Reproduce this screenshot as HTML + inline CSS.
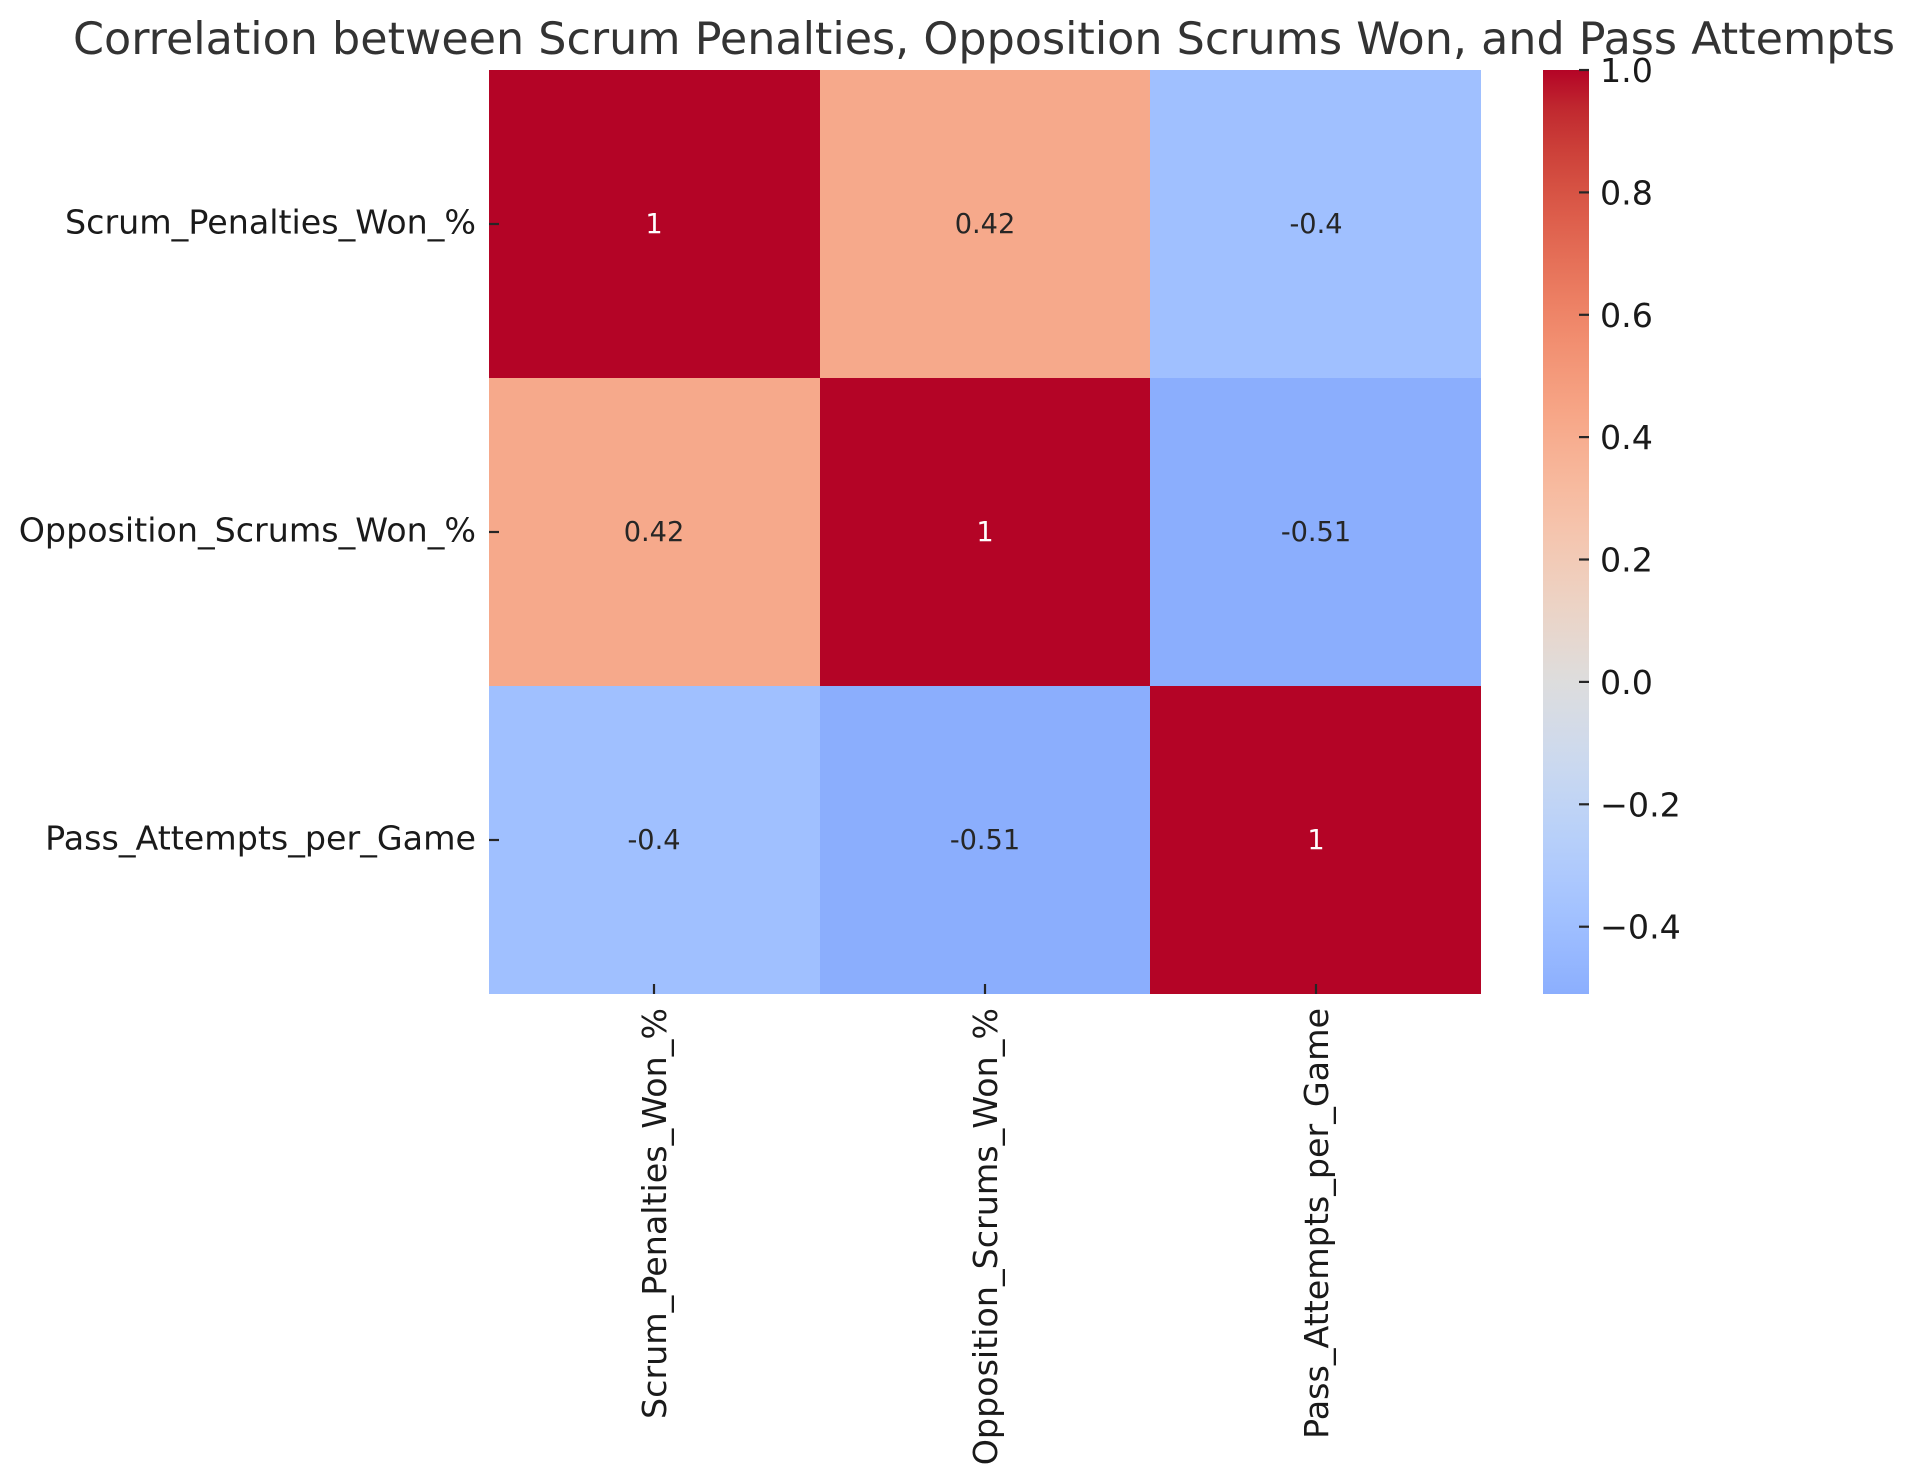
<!DOCTYPE html>
<html>
<head>
<meta charset="utf-8">
<style>
html,body{margin:0;padding:0;background:#fff;}
svg{display:block;}
text{font-family:"DejaVu Sans","Liberation Sans",sans-serif;}
</style>
</head>
<body>
<svg width="1917" height="1483" viewBox="0 0 1917 1483" xmlns="http://www.w3.org/2000/svg">
<defs>
<linearGradient id="cb" x1="0" y1="0" x2="0" y2="1">
<stop offset="0" stop-color="rgb(180,4,38)"/>
<stop offset="0.04139" stop-color="rgb(192,40,47)"/>
<stop offset="0.08278" stop-color="rgb(203,62,56)"/>
<stop offset="0.12417" stop-color="rgb(213,80,66)"/>
<stop offset="0.16556" stop-color="rgb(222,96,77)"/>
<stop offset="0.20695" stop-color="rgb(229,112,88)"/>
<stop offset="0.24834" stop-color="rgb(236,127,99)"/>
<stop offset="0.28974" stop-color="rgb(241,141,111)"/>
<stop offset="0.33113" stop-color="rgb(244,154,123)"/>
<stop offset="0.37252" stop-color="rgb(247,166,135)"/>
<stop offset="0.41391" stop-color="rgb(247,177,148)"/>
<stop offset="0.4553" stop-color="rgb(247,187,160)"/>
<stop offset="0.49669" stop-color="rgb(245,196,173)"/>
<stop offset="0.53808" stop-color="rgb(241,204,185)"/>
<stop offset="0.57947" stop-color="rgb(236,211,197)"/>
<stop offset="0.62086" stop-color="rgb(229,216,209)"/>
<stop offset="0.66225" stop-color="rgb(221,221,221)"/>
<stop offset="0.70364" stop-color="rgb(213,219,230)"/>
<stop offset="0.74503" stop-color="rgb(204,217,238)"/>
<stop offset="0.78642" stop-color="rgb(194,213,244)"/>
<stop offset="0.82781" stop-color="rgb(184,208,249)"/>
<stop offset="0.8692" stop-color="rgb(174,201,253)"/>
<stop offset="0.9106" stop-color="rgb(163,194,255)"/>
<stop offset="0.95199" stop-color="rgb(152,185,255)"/>
<stop offset="0.99338" stop-color="rgb(141,176,254)"/>
<stop offset="1" stop-color="rgb(139,174,253)"/>
</linearGradient>
</defs>

<!-- Title -->
<text x="984" y="54" font-size="44.4" fill="#333333" text-anchor="middle" textLength="1822" lengthAdjust="spacingAndGlyphs">Correlation between Scrum Penalties, Opposition Scrums Won, and Pass Attempts</text>

<!-- Heatmap cells -->
<rect x="489" y="70" width="331" height="308" fill="#b40426"/>
<rect x="820" y="70" width="330" height="308" fill="#f6a98b"/>
<rect x="1150" y="70" width="331" height="308" fill="#a0c0ff"/>

<rect x="489" y="378" width="331" height="308" fill="#f6a98b"/>
<rect x="820" y="378" width="330" height="308" fill="#b40426"/>
<rect x="1150" y="378" width="331" height="308" fill="#8baefd"/>

<rect x="489" y="686" width="331" height="308" fill="#a0c0ff"/>
<rect x="820" y="686" width="330" height="308" fill="#8baefd"/>
<rect x="1150" y="686" width="331" height="308" fill="#b40426"/>

<!-- Annotations -->
<g font-size="27.2" text-anchor="middle">
<text x="654" y="233" fill="#ffffff">1</text>
<text x="985" y="233" fill="#262626">0.42</text>
<text x="1316" y="233" fill="#262626">-0.4</text>

<text x="654" y="541" fill="#262626">0.42</text>
<text x="985" y="541" fill="#ffffff">1</text>
<text x="1316" y="541" fill="#262626">-0.51</text>

<text x="654" y="849" fill="#262626">-0.4</text>
<text x="985" y="849" fill="#262626">-0.51</text>
<text x="1316" y="849" fill="#ffffff">1</text>
</g>

<!-- Y ticks -->
<g stroke="#262626" stroke-width="2.2">
<line x1="489" y1="224" x2="499" y2="224"/>
<line x1="489" y1="532" x2="499" y2="532"/>
<line x1="489" y1="840" x2="499" y2="840"/>
<!-- X ticks -->
<line x1="654" y1="984" x2="654" y2="994"/>
<line x1="985" y1="984" x2="985" y2="994"/>
<line x1="1316" y1="984" x2="1316" y2="994"/>
</g>

<!-- Y tick labels -->
<g font-size="33.3" fill="#1a1a1a" text-anchor="end">
<text x="476" y="233.5">Scrum_Penalties_Won_%</text>
<text x="476" y="541.5">Opposition_Scrums_Won_%</text>
<text x="476" y="849.5">Pass_Attempts_per_Game</text>
</g>

<!-- X tick labels (rotated) -->
<g font-size="33.3" fill="#1a1a1a" text-anchor="end">
<text transform="translate(666,1008) rotate(-90)">Scrum_Penalties_Won_%</text>
<text transform="translate(997,1008) rotate(-90)">Opposition_Scrums_Won_%</text>
<text transform="translate(1328,1008) rotate(-90)">Pass_Attempts_per_Game</text>
</g>

<!-- Colorbar -->
<rect x="1543" y="70" width="46" height="924" fill="url(#cb)"/>
<g stroke="#262626" stroke-width="2.2">
<line x1="1579" y1="70" x2="1589" y2="70"/>
<line x1="1579" y1="192.4" x2="1589" y2="192.4"/>
<line x1="1579" y1="314.8" x2="1589" y2="314.8"/>
<line x1="1579" y1="437.1" x2="1589" y2="437.1"/>
<line x1="1579" y1="559.5" x2="1589" y2="559.5"/>
<line x1="1579" y1="681.9" x2="1589" y2="681.9"/>
<line x1="1579" y1="804.3" x2="1589" y2="804.3"/>
<line x1="1579" y1="926.7" x2="1589" y2="926.7"/>
</g>
<g font-size="33.3" fill="#1a1a1a">
<text x="1600" y="82">1.0</text>
<text x="1600" y="204.4">0.8</text>
<text x="1600" y="326.8">0.6</text>
<text x="1600" y="449.1">0.4</text>
<text x="1600" y="571.5">0.2</text>
<text x="1600" y="693.9">0.0</text>
<text x="1600" y="816.3">−0.2</text>
<text x="1600" y="938.7">−0.4</text>
</g>
</svg>
</body>
</html>
